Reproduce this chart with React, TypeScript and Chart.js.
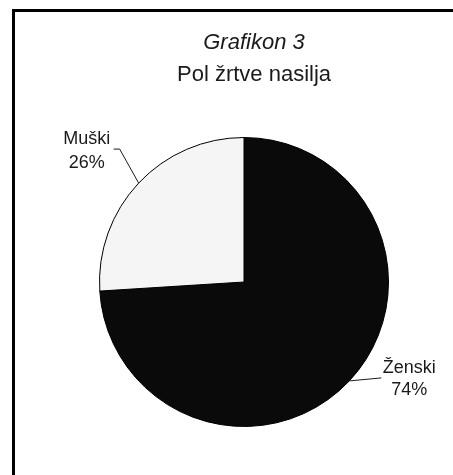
import React, { useEffect, useRef } from "react";
import { Chart, registerables } from "chart.js";

Chart.register(...registerables);

const TITLE_LINES = ["Grafikon 3", "Pol žrtve nasilja"];
const CATEGORIES = ["Ženski", "Muški"];
const VALUES = [74, 26];
const PERCENT_LABELS = ["74%", "26%"];
const COLORS = ["#0a0a0a", "#f5f5f5"];

const FONT = "'Liberation Sans', Arial, sans-serif";

// leader / text offsets relative to the arc's outer-edge midpoint
const LABEL_LAYOUT = [
  { path: [[32, -3]], textDx: 60, line1Dy: -8, line2Dy: 14 },
  { path: [[-19, -34], [-25, -34]], textDx: -52, line1Dy: -39, line2Dy: -15 },
];

const labelPlugin = {
  id: "pieLabels",
  afterDraw(chart: any) {
    const ctx = chart.ctx as CanvasRenderingContext2D;
    ctx.save();
    ctx.fillStyle = "#1a1a1a";
    ctx.textAlign = "center";
    ctx.textBaseline = "alphabetic";
    ctx.font = `italic 22px ${FONT}`;
    ctx.fillText(TITLE_LINES[0], 254, 49);
    ctx.font = `22px ${FONT}`;
    ctx.fillText(TITLE_LINES[1], 254, 81);

    const meta = chart.getDatasetMeta(0);
    meta.data.forEach((arc: any, i: number) => {
      const { x, y, startAngle, endAngle, outerRadius } = arc.getProps(
        ["x", "y", "startAngle", "endAngle", "outerRadius"],
        true
      );
      const mid = (startAngle + endAngle) / 2;
      const ex = x + Math.cos(mid) * outerRadius;
      const ey = y + Math.sin(mid) * outerRadius;
      const L = LABEL_LAYOUT[i];
      ctx.strokeStyle = "#1a1a1a";
      ctx.lineWidth = 1;
      ctx.beginPath();
      ctx.moveTo(ex, ey);
      L.path.forEach(([dx, dy]) => ctx.lineTo(ex + dx, ey + dy));
      ctx.stroke();
      ctx.font = `18px ${FONT}`;
      ctx.fillText(CATEGORIES[i], ex + L.textDx, ey + L.line1Dy);
      ctx.fillText(PERCENT_LABELS[i], ex + L.textDx, ey + L.line2Dy);
    });
    ctx.restore();
  },
};

export default function App() {
  const ref = useRef<HTMLCanvasElement>(null);
  useEffect(() => {
    if (!ref.current) return;
    const chart = new Chart(ref.current, {
      type: "pie",
      data: {
        labels: CATEGORIES,
        datasets: [
          {
            data: VALUES,
            backgroundColor: COLORS,
            borderColor: "#000000",
            borderWidth: 1,
            hoverOffset: 0,
          },
        ],
      },
      options: {
        animation: false,
        responsive: false,
        devicePixelRatio: 1,
        layout: { padding: { left: 99, right: 64, top: 137, bottom: 48 } },
        plugins: {
          legend: { display: false },
          tooltip: { enabled: false },
          title: { display: false },
        },
      },
      plugins: [labelPlugin],
    });
    return () => chart.destroy();
  }, []);

  return (
    <div
      style={{
        position: "fixed",
        left: 0,
        top: 0,
        width: 453,
        height: 475,
        overflow: "hidden",
        background: "#ffffff",
      }}
    >
      <div
        style={{
          position: "absolute",
          left: 12,
          top: 9,
          width: 600,
          height: 600,
          border: "3px solid #000",
          boxSizing: "border-box",
        }}
      />
      <canvas
        ref={ref}
        width={453}
        height={475}
        style={{ position: "absolute", left: 0, top: 0, display: "block" }}
      />
    </div>
  );
}
